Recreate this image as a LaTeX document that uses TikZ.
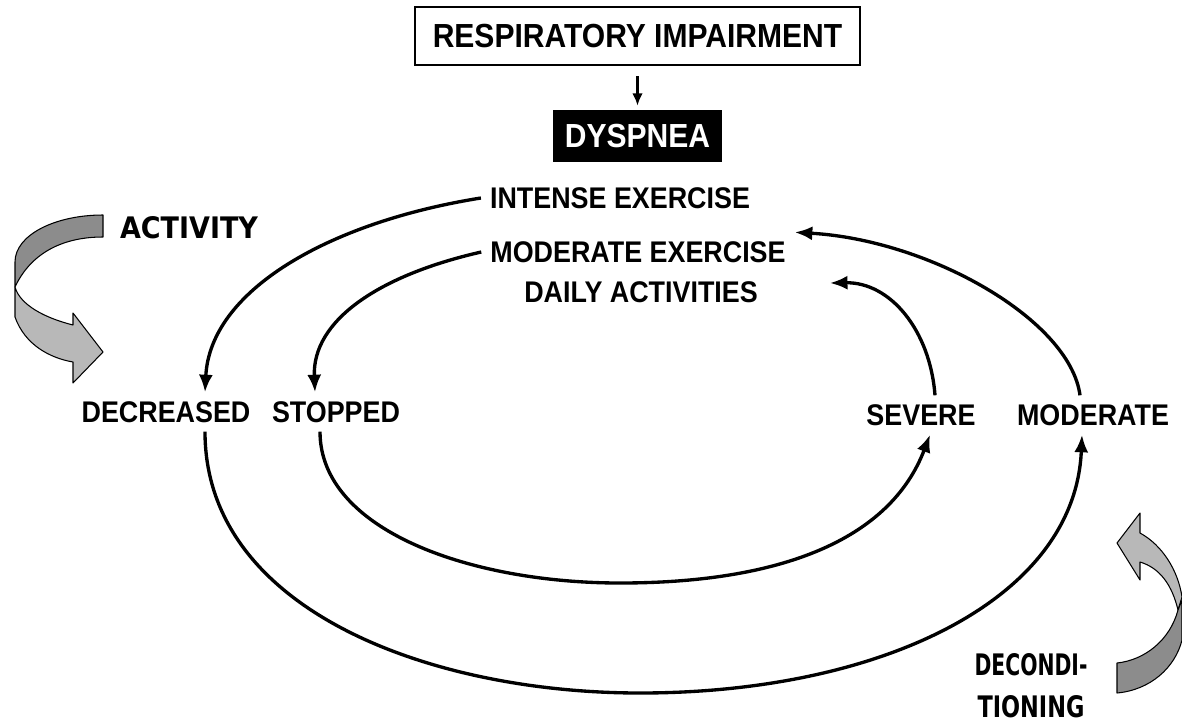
\documentclass[tikz,border=0pt]{standalone}
\usepackage{fontspec}
\usepackage{graphicx}
\usetikzlibrary{arrows.meta}
\newfontfamily\labfont[FakeStretch=0.9]{Liberation Sans}
\newfontfamily\comicfont{DejaVu Sans}
\tikzset{
  lbl/.style={font=\labfont\bfseries\fontsize{17}{20}\selectfont, inner sep=5pt},
  toplbl/.style={font=\labfont\bfseries\fontsize{19}{22}\selectfont},
  conn/.style={line width=1.9pt, -{Latex[length=10pt,width=8pt]}},
  ribbondark/.style={fill=black!45, draw=black, line width=0.6pt, line join=round},
  ribbonlight/.style={fill=black!28, draw=black, line width=0.6pt, line join=round},
}
\begin{document}
\begin{tikzpicture}[x=0.02cm,y=-0.02cm]
\path[use as bounding box] (0,0) rectangle (1182,727);

% boxes
\node[toplbl, draw, line width=1.3pt, minimum width=8.9cm, minimum height=1.16cm] (ri) at (637.5,36) {RESPIRATORY IMPAIRMENT};
\node[toplbl, fill=black, text=white, minimum width=3.38cm, minimum height=1.04cm] (dys) at (637.5,136) {DYSPNEA};
\draw[line width=1.3pt, -{Latex[length=7pt,width=6pt]}, shorten <=0.2cm, shorten >=0.08cm] (ri.south) -- (dys.north);

% labels
\node[lbl] (ie) at (620,198) {INTENSE EXERCISE};
\node[lbl] (me) at (638,252) {MODERATE EXERCISE};
\node[lbl] (da) at (641,292) {DAILY ACTIVITIES};
\node[lbl] (dec) at (166,412) {DECREASED};
\node[lbl] (stop) at (336,412) {STOPPED};
\node[lbl] (sev) at (921,415) {SEVERE};
\node[lbl] (mod) at (1093,415) {MODERATE};

\node[font=\comicfont\bfseries, inner sep=0pt] (act) at (189,228) {\resizebox{2.76cm}{0.44cm}{ACTIVITY}};
\node[font=\comicfont\bfseries\fontsize{20}{23.8}\selectfont, align=center, inner sep=0pt] (decond) at (1031,686)
  {\resizebox{2.26cm}{0.44cm}{DECONDI-}\\\resizebox{2.14cm}{0.44cm}{TIONING}};

% connectors
\draw[conn] (ie.west) .. controls (330,222) and (210,290) .. ([xshift=0.78cm]dec.north);
\draw[conn] (me.west) .. controls (380,275) and (312,320) .. ([xshift=-0.42cm]stop.north);
\draw[conn] ([xshift=0.78cm]dec.south) .. controls (205,610) and (430,693) .. (640,693)
   .. controls (880,693) and (1075,600) .. ([xshift=-0.22cm]mod.south);
\draw[conn] ([xshift=-0.32cm]stop.south) .. controls (320,530) and (470,583) .. (620,583)
   .. controls (780,583) and (890,540) .. ([xshift=0.18cm]sev.south);
\draw[conn] ([xshift=-0.26cm]mod.north) .. controls (1070,320) and (930,240) .. (me.north east);
\draw[conn] ([xshift=0.28cm]sev.north) .. controls (930,330) and (890,282) .. ([xshift=1.26cm,yshift=0.18cm]da.east);

% grey ribbon arrow: activity
\path[ribbondark] (103,215) .. controls (55,215) and (15,235) .. (15,262) -- (15,287)
   .. controls (30,255) and (60,237) .. (103,237) -- cycle;
\path[ribbonlight] (15,287) -- (15,317) .. controls (25,345) and (50,358) .. (73,362)
   -- (73,383) -- (103,352) -- (73,313) -- (73,325) .. controls (45,318) and (20,305) .. (15,287) -- cycle;

% grey ribbon arrow: deconditioning
\path[ribbonlight] (1117,543) -- (1140,513) -- (1140,533) .. controls (1162,545) and (1178,570) .. (1182,597)
   -- (1178,610) .. controls (1172,585) and (1160,568) .. (1140,562) -- (1140,580) -- cycle;
\path[ribbondark] (1178,610) .. controls (1170,640) and (1145,660) .. (1117,663) -- (1117,693)
   .. controls (1150,690) and (1175,668) .. (1182,640) -- (1182,600) -- cycle;
\end{tikzpicture}
\end{document}
